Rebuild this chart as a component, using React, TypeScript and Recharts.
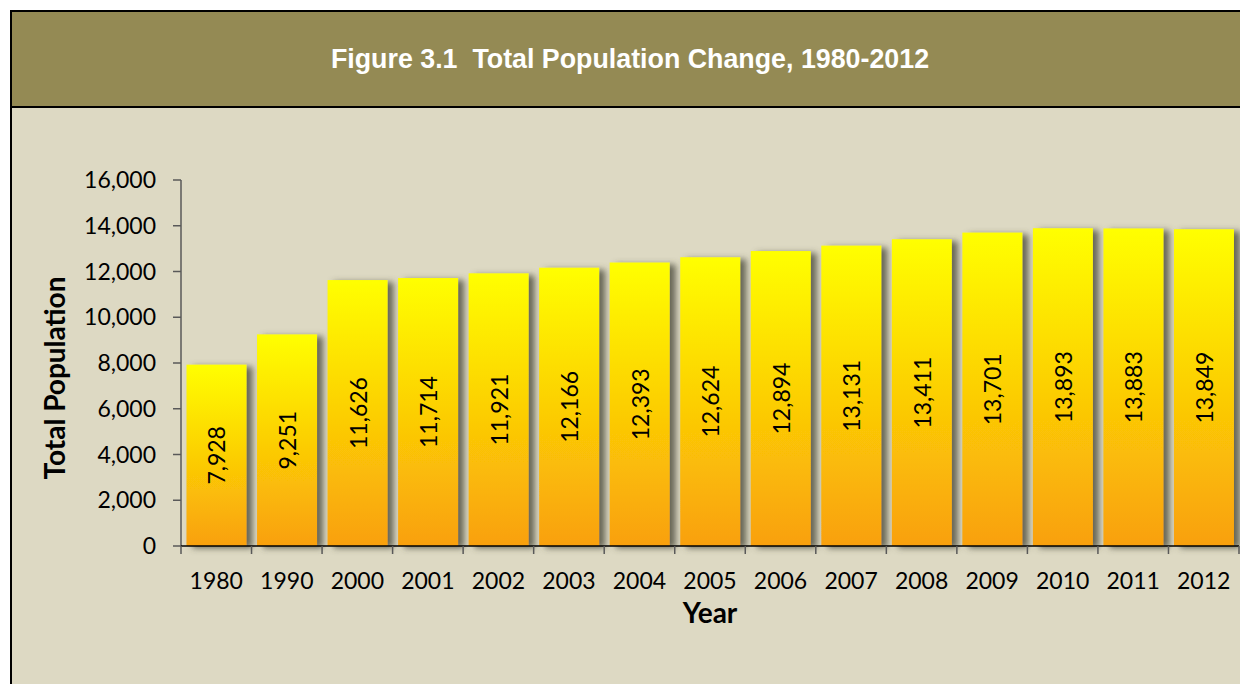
import React from 'react';
import { BarChart, Bar, XAxis, YAxis, LabelList, Label } from 'recharts';

const years = ['1980', '1990', '2000', '2001', '2002', '2003', '2004', '2005', '2006', '2007', '2008', '2009', '2010', '2011', '2012'];
const population = [7928, 9251, 11626, 11714, 11921, 12166, 12393, 12624, 12894, 13131, 13411, 13701, 13893, 13883, 13849];
const yTicks = [0, 2000, 4000, 6000, 8000, 10000, 12000, 14000, 16000];

const data = years.map((year, i) => ({ year, value: population[i] }));

const W = 1240;
const H = 684;
const PLOT_LEFT = 181;
const PLOT_RIGHT = 1239;
const PLOT_TOP = 180;
const PLOT_BOTTOM = 546;
const Y_AXIS_W = 100;
const X_AXIS_H = 60;
const BAND = (PLOT_RIGHT - PLOT_LEFT) / years.length;
const FONT = 'Lato, "Open Sans", sans-serif';

const fmt = (v: number) => Number(v).toLocaleString('en-US');

const XTick = (props: any) => {
  const { x, y, payload, index } = props;
  const i = payload && payload.index != null ? payload.index : index;
  const left = x - BAND / 2;
  const right = x + BAND / 2;
  return (
    <g>
      <line x1={left} x2={left} y1={y} y2={y + 8} stroke="#595959" strokeWidth={1.5} />
      {i === years.length - 1 && (
        <line x1={right} x2={right} y1={y} y2={y + 8} stroke="#595959" strokeWidth={1.5} />
      )}
      <text x={x} y={y + 43} textAnchor="middle" fill="#000" fontFamily={FONT} fontSize={23}>
        {payload.value}
      </text>
    </g>
  );
};

const BarShape = (props: any) => {
  const { x, y, width, height } = props;
  if (height == null || height <= 0) return null;
  return <rect x={x} y={y} width={width} height={height} fill="url(#barGrad)" filter="url(#barShadow)" />;
};

const BarLabel = (props: any) => {
  const { x, y, width, height, value } = props;
  const cx = x + width / 2;
  const cy = y + height / 2;
  return (
    <text
      x={cx}
      y={cy}
      transform={`rotate(-90, ${cx}, ${cy})`}
      textAnchor="middle"
      dominantBaseline="central"
      fill="#000"
      fontFamily={FONT}
      fontSize={23}
    >
      {fmt(value)}
    </text>
  );
};

export default function App() {
  return (
    <div style={{ position: 'fixed', left: 0, top: 0, width: W, height: H, overflow: 'hidden', background: '#fff' }}>
      <div
        style={{
          position: 'absolute',
          left: 10,
          top: 10,
          width: 1300,
          height: 720,
          borderLeft: '2px solid #000',
          borderTop: '2px solid #000',
          background: '#DDD9C3',
        }}
      >
        <div
          style={{
            position: 'absolute',
            left: 0,
            top: 0,
            width: 1300,
            height: 94,
            background: '#948A54',
            borderBottom: '2px solid #000',
          }}
        />
      </div>
      <div
        style={{
          position: 'absolute',
          left: 0,
          top: 41,
          width: 1260,
          height: 36,
          lineHeight: '36px',
          textAlign: 'center',
          color: '#fff',
          fontFamily: '"Liberation Sans", Arial, sans-serif',
          fontWeight: 'bold',
          fontSize: 26.8,
          whiteSpace: 'pre',
        }}
      >
        {'Figure 3.1  Total Population Change, 1980-2012'}
      </div>
      <div style={{ position: 'absolute', left: 0, top: 0 }}>
        <BarChart
          width={W}
          height={H}
          data={data}
          margin={{
            top: PLOT_TOP,
            right: W - PLOT_RIGHT,
            bottom: H - PLOT_BOTTOM - X_AXIS_H,
            left: PLOT_LEFT - Y_AXIS_W,
          }}
          barCategoryGap={5.5}
        >
          <defs>
            <linearGradient id="barGrad" x1="0" y1="0" x2="0" y2="1">
              <stop offset="0%" stopColor="#FFFF00" />
              <stop offset="100%" stopColor="#F9A00A" />
            </linearGradient>
            <filter id="barShadow" x="-20%" y="-10%" width="160%" height="130%">
              <feDropShadow dx={6} dy={2} stdDeviation={3} floodColor="#4a4a3a" floodOpacity={0.8} />
            </filter>
          </defs>
          <YAxis
            width={Y_AXIS_W}
            domain={[0, 16000]}
            ticks={yTicks}
            interval={0}
            tickFormatter={fmt}
            tickSize={8}
            tickMargin={17}
            axisLine={{ stroke: '#595959', strokeWidth: 1.5 }}
            tickLine={{ stroke: '#595959', strokeWidth: 1.5 }}
            tick={{ fill: '#000', fontFamily: FONT, fontSize: 23 }}
          >
            <Label
              content={(p: any) => {
                const vb = p.viewBox || {};
                const lx = vb.x - 16;
                const ly = vb.y + vb.height / 2 + 15;
                return (
                  <text
                    x={lx}
                    y={ly}
                    transform={`rotate(-90, ${lx}, ${ly})`}
                    textAnchor="middle"
                    fill="#000"
                    fontFamily={FONT}
                    fontWeight="bold"
                    fontSize={28}
                  >
                    Total Population
                  </text>
                );
              }}
            />
          </YAxis>
          <XAxis
            dataKey="year"
            height={X_AXIS_H}
            interval={0}
            tickLine={false}
            tickSize={0}
            tickMargin={0}
            axisLine={{ stroke: '#000', strokeWidth: 1.5 }}
            tick={<XTick />}
          >
            <Label
              content={(p: any) => {
                const vb = p.viewBox || {};
                return (
                  <text
                    x={vb.x + vb.width / 2}
                    y={vb.y + 77}
                    textAnchor="middle"
                    fill="#000"
                    fontFamily={FONT}
                    fontWeight="bold"
                    fontSize={28}
                  >
                    Year
                  </text>
                );
              }}
            />
          </XAxis>
          <Bar dataKey="value" shape={<BarShape />} isAnimationActive={false}>
            <LabelList dataKey="value" content={<BarLabel />} />
          </Bar>
        </BarChart>
      </div>
    </div>
  );
}
